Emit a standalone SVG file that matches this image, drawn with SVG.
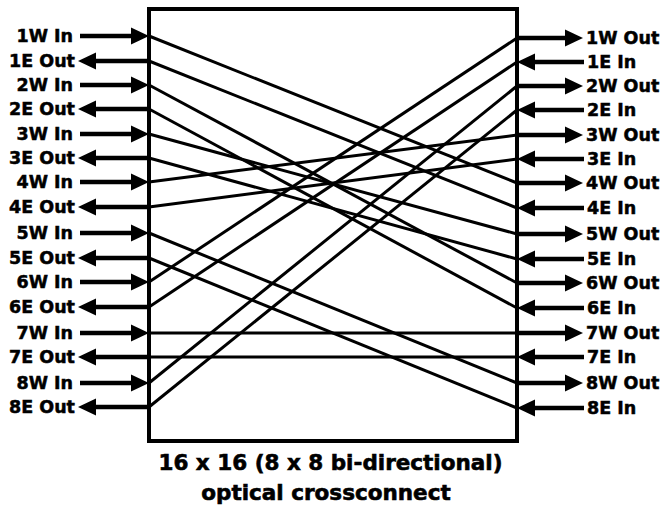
<svg xmlns="http://www.w3.org/2000/svg" width="663" height="512" viewBox="0 0 663 512">
  <style>
    .lbl { font-family: "DejaVu Sans", "Liberation Sans", sans-serif; font-weight: bold; font-size: 17.5px; fill: #000; stroke: #000; stroke-width: 0.5; }
    .title { font-family: "DejaVu Sans", "Liberation Sans", sans-serif; font-weight: bold; font-size: 21.5px; fill: #000; stroke: #000; stroke-width: 0.6; text-anchor: middle; }
    .shaft { stroke: #000; stroke-width: 4.5; fill: none; marker-end: url(#head); }
    .link { stroke: #000; stroke-width: 3; fill: none; }
    .box { stroke: #000; stroke-width: 4; fill: #fff; }
  </style>
  <defs>
    <marker id="head" markerUnits="userSpaceOnUse" viewBox="0 -8.5 18 17" markerWidth="18" markerHeight="17" refX="0" refY="0" orient="auto" overflow="visible">
      <path d="M0,-8.5 L18,0 L0,8.5 Z" fill="#000"/>
    </marker>
  </defs>
  <rect width="663" height="512" fill="#fff"/>

  <g id="crossconnect">
    <rect class="box" x="149" y="9" width="368" height="432"/>
    <text class="title" x="330.5" y="470">16 x 16 (8 x 8 bi-directional)</text>
    <text class="title" x="326" y="500">optical crossconnect</text>
  </g>

  <g id="connectors">
    <line class="link" x1="149" y1="36" x2="517" y2="183"/>
    <line class="link" x1="149" y1="61" x2="517" y2="208"/>
    <line class="link" x1="149" y1="85" x2="517" y2="283"/>
    <line class="link" x1="149" y1="109" x2="517" y2="308"/>
    <line class="link" x1="149" y1="134" x2="517" y2="234"/>
    <line class="link" x1="149" y1="158" x2="517" y2="259"/>
    <line class="link" x1="149" y1="182" x2="517" y2="135"/>
    <line class="link" x1="149" y1="207" x2="517" y2="159"/>
    <line class="link" x1="149" y1="233" x2="517" y2="383"/>
    <line class="link" x1="149" y1="258" x2="517" y2="408"/>
    <line class="link" x1="149" y1="282" x2="517" y2="38"/>
    <line class="link" x1="149" y1="307" x2="517" y2="62"/>
    <line class="link" x1="149" y1="333" x2="517" y2="333"/>
    <line class="link" x1="149" y1="357" x2="517" y2="357"/>
    <line class="link" x1="149" y1="383" x2="517" y2="86"/>
    <line class="link" x1="149" y1="407" x2="517" y2="110"/>
  </g>

  <g id="left-ports">
    <g id="p1W-in"><line class="shaft" x1="80" y1="36" x2="131" y2="36"/><text class="lbl" x="73" y="42" text-anchor="end">1W In</text></g>
    <g id="p1E-out"><line class="shaft" x1="149" y1="61" x2="96" y2="61"/><text class="lbl" x="75" y="67" text-anchor="end">1E Out</text></g>
    <g id="p2W-in"><line class="shaft" x1="80" y1="85" x2="131" y2="85"/><text class="lbl" x="73" y="91" text-anchor="end">2W In</text></g>
    <g id="p2E-out"><line class="shaft" x1="149" y1="109" x2="96" y2="109"/><text class="lbl" x="75" y="115" text-anchor="end">2E Out</text></g>
    <g id="p3W-in"><line class="shaft" x1="80" y1="134" x2="131" y2="134"/><text class="lbl" x="73" y="140" text-anchor="end">3W In</text></g>
    <g id="p3E-out"><line class="shaft" x1="149" y1="158" x2="96" y2="158"/><text class="lbl" x="75" y="164" text-anchor="end">3E Out</text></g>
    <g id="p4W-in"><line class="shaft" x1="80" y1="182" x2="131" y2="182"/><text class="lbl" x="73" y="188" text-anchor="end">4W In</text></g>
    <g id="p4E-out"><line class="shaft" x1="149" y1="207" x2="96" y2="207"/><text class="lbl" x="75" y="213" text-anchor="end">4E Out</text></g>
    <g id="p5W-in"><line class="shaft" x1="80" y1="233" x2="131" y2="233"/><text class="lbl" x="73" y="239" text-anchor="end">5W In</text></g>
    <g id="p5E-out"><line class="shaft" x1="149" y1="258" x2="96" y2="258"/><text class="lbl" x="75" y="264" text-anchor="end">5E Out</text></g>
    <g id="p6W-in"><line class="shaft" x1="80" y1="282" x2="131" y2="282"/><text class="lbl" x="73" y="288" text-anchor="end">6W In</text></g>
    <g id="p6E-out"><line class="shaft" x1="149" y1="307" x2="96" y2="307"/><text class="lbl" x="75" y="313" text-anchor="end">6E Out</text></g>
    <g id="p7W-in"><line class="shaft" x1="80" y1="333" x2="131" y2="333"/><text class="lbl" x="73" y="339" text-anchor="end">7W In</text></g>
    <g id="p7E-out"><line class="shaft" x1="149" y1="357" x2="96" y2="357"/><text class="lbl" x="75" y="363" text-anchor="end">7E Out</text></g>
    <g id="p8W-in"><line class="shaft" x1="80" y1="383" x2="131" y2="383"/><text class="lbl" x="73" y="389" text-anchor="end">8W In</text></g>
    <g id="p8E-out"><line class="shaft" x1="149" y1="407" x2="96" y2="407"/><text class="lbl" x="75" y="413" text-anchor="end">8E Out</text></g>
  </g>

  <g id="right-ports">
    <g id="p1W-out"><line class="shaft" x1="517" y1="38" x2="565" y2="38"/><text class="lbl" x="586" y="44">1W Out</text></g>
    <g id="p1E-in"><line class="shaft" x1="584" y1="62" x2="535" y2="62"/><text class="lbl" x="587" y="68">1E In</text></g>
    <g id="p2W-out"><line class="shaft" x1="517" y1="86" x2="565" y2="86"/><text class="lbl" x="586" y="92">2W Out</text></g>
    <g id="p2E-in"><line class="shaft" x1="584" y1="110" x2="535" y2="110"/><text class="lbl" x="587" y="116">2E In</text></g>
    <g id="p3W-out"><line class="shaft" x1="517" y1="135" x2="565" y2="135"/><text class="lbl" x="586" y="141">3W Out</text></g>
    <g id="p3E-in"><line class="shaft" x1="584" y1="159" x2="535" y2="159"/><text class="lbl" x="587" y="165">3E In</text></g>
    <g id="p4W-out"><line class="shaft" x1="517" y1="183" x2="565" y2="183"/><text class="lbl" x="586" y="189">4W Out</text></g>
    <g id="p4E-in"><line class="shaft" x1="584" y1="208" x2="535" y2="208"/><text class="lbl" x="587" y="214">4E In</text></g>
    <g id="p5W-out"><line class="shaft" x1="517" y1="234" x2="565" y2="234"/><text class="lbl" x="586" y="240">5W Out</text></g>
    <g id="p5E-in"><line class="shaft" x1="584" y1="259" x2="535" y2="259"/><text class="lbl" x="587" y="265">5E In</text></g>
    <g id="p6W-out"><line class="shaft" x1="517" y1="283" x2="565" y2="283"/><text class="lbl" x="586" y="289">6W Out</text></g>
    <g id="p6E-in"><line class="shaft" x1="584" y1="308" x2="535" y2="308"/><text class="lbl" x="587" y="314">6E In</text></g>
    <g id="p7W-out"><line class="shaft" x1="517" y1="333" x2="565" y2="333"/><text class="lbl" x="586" y="339">7W Out</text></g>
    <g id="p7E-in"><line class="shaft" x1="584" y1="357" x2="535" y2="357"/><text class="lbl" x="587" y="363">7E In</text></g>
    <g id="p8W-out"><line class="shaft" x1="517" y1="383" x2="565" y2="383"/><text class="lbl" x="586" y="389">8W Out</text></g>
    <g id="p8E-in"><line class="shaft" x1="584" y1="408" x2="535" y2="408"/><text class="lbl" x="587" y="414">8E In</text></g>
  </g>
</svg>
